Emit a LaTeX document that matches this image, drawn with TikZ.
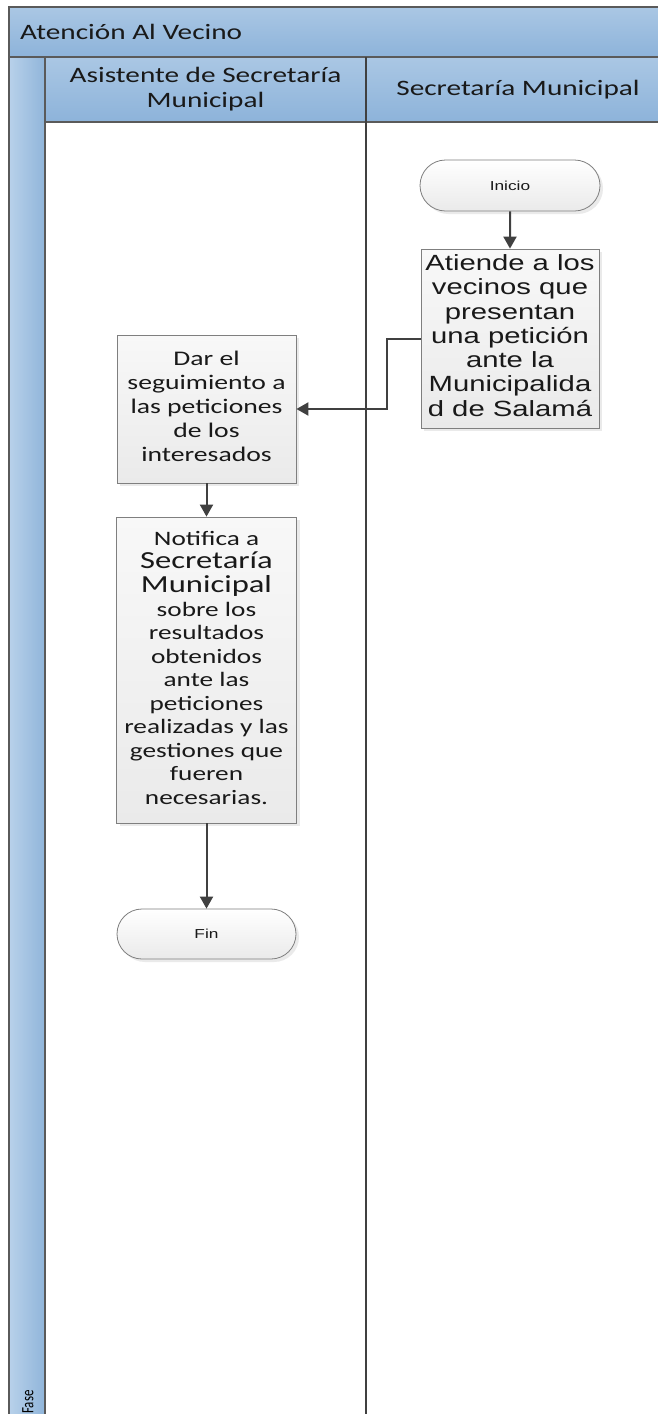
\documentclass[tikz,border=0pt]{standalone}
\usepackage{fontspec}
\usepackage{graphicx}
\setmainfont{Carlito}
\newfontfamily\arialfont{Liberation Sans}
\usetikzlibrary{arrows.meta,shapes.misc,shadows}

\definecolor{poolTop}{HTML}{AAC7E4}
\definecolor{poolBot}{HTML}{8DB3DA}
\definecolor{barLeft}{HTML}{B8D1EA}
\definecolor{barRight}{HTML}{90B5DA}
\definecolor{frameline}{HTML}{5A5A5A}
\definecolor{flow}{HTML}{404040}
\definecolor{boxline}{HTML}{7F7F7F}
\definecolor{boxtop}{HTML}{F8F8F8}
\definecolor{boxbot}{HTML}{EAEAEA}

% text in this chart is set wide
\newcommand\wide[1]{\scalebox{1.33}[1]{#1}}
\newcommand\lines[1]{\begin{tabular}{@{}c@{}}#1\end{tabular}}

\begin{document}
\begin{tikzpicture}[x=1pt,y=-1pt,
  frame/.style={draw=frameline,line width=1.3pt},
  hdr/.style={inner sep=0pt,font=\fontsize{22}{25}\selectfont,text=black!90},
  stepbox/.style={rectangle,draw=boxline,line width=0.8pt,top color=boxtop,bottom color=boxbot,
    inner sep=0pt,align=center,text=black!90,
    drop shadow={fill=black!16,shadow xshift=3pt,shadow yshift=-3pt}},
  term/.style={rounded rectangle,draw=boxline,line width=0.8pt,top color=white,bottom color=boxbot,
    inner sep=0pt,minimum width=180pt,minimum height=51pt,text=black!90,
    font=\arialfont\fontsize{13}{15}\selectfont,
    drop shadow={fill=black!16,shadow xshift=3pt,shadow yshift=-3pt}},
  flowline/.style={draw=flow,line width=2pt,-{Triangle[width=13pt,length=12pt]}}
]
\useasboundingbox (0,0) rectangle (658,1414);
\clip (0,0) rectangle (658,1414);

% pool: title bar, phase bar, lane headers and lane bodies
\shade[top color=poolTop,bottom color=poolBot] (9,7) rectangle (700,57);
\shade[left color=barLeft,right color=barRight] (9,57) rectangle (45,1440);
\shade[top color=poolTop,bottom color=poolBot] (45,57) rectangle (700,122);
\fill[white] (45,122) rectangle (700,1440);
\draw[frame] (9,1440) -- (9,7) -- (700,7);
\draw[frame] (9,57) -- (700,57);
\draw[frame] (45,57) -- (45,1440);
\draw[frame] (45,122) -- (700,122);
\draw[frame,draw=flow] (366,57) -- (366,1440);

\node[hdr,anchor=west] (pool) at (20,32) {\wide{Atención Al Vecino}};
\node[hdr] (laneA) at (205.5,89.5) {\wide{\lines{Asistente de Secretaría\\Municipal}}};
\node[hdr] (laneB) at (518,89.5) {\wide{Secretaría Municipal}};
\node[inner sep=0pt,rotate=90,anchor=west,font=\fontsize{13}{15}\selectfont] (phase) at (28,1414)
  {\scalebox{1}[1.33]{Fase}};

% flow
\node[term] (ini) at (510,185.5) {\wide{Inicio}};
\node[stepbox,minimum width=178pt,minimum height=179pt,
  font=\arialfont\fontsize{22}{24.3}\selectfont] (atiende) at (510,338.5)
  {\wide{\lines{Atiende a los\\vecinos que\\presentan\\una petición\\ante la\\Municipalida\\d de Salamá}}};
\node[stepbox,minimum width=179pt,minimum height=148pt,
  font=\fontsize{20.8}{24}\selectfont] (dar) at (206.5,409)
  {\wide{\lines{Dar el\\seguimiento a\\las peticiones\\de los\\interesados}}};
\node[stepbox,minimum width=180pt,minimum height=306pt,
  font=\fontsize{20.5}{23.5}\selectfont] (notif) at (206.5,670)
  {\wide{\lines{Notifica a\\{\fontsize{24.5}{27}\selectfont Secretaría}\\{\fontsize{24.5}{27}\selectfont Municipal}\\sobre los\\resultados\\obtenidos\\ante las\\peticiones\\realizadas y las\\gestiones que\\fueren\\necesarias.}}};
\node[term,minimum width=179pt,minimum height=50pt] (fin) at (206.5,934) {\wide{Fin}};

\coordinate (elbow) at (387,0);
\draw[flowline] (ini) -- (atiende);
\draw[flowline] (atiende.west) -- (atiende.west -| elbow) |- (dar.east);
\draw[flowline] (dar) -- (notif);
\draw[flowline] (notif) -- (fin);
\end{tikzpicture}
\end{document}
